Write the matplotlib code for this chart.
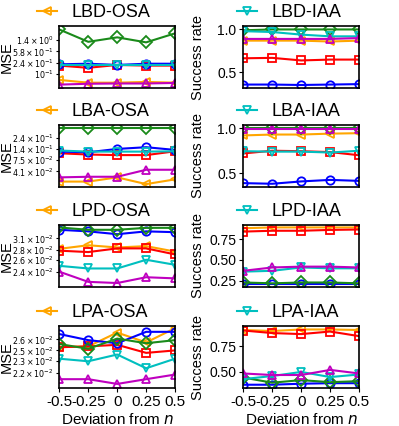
import numpy as np
import matplotlib
matplotlib.use('Agg')
import matplotlib.pyplot as plt
from matplotlib.lines import Line2D
from matplotlib.ticker import FixedLocator, FuncFormatter, NullLocator, FixedFormatter

plt.rcParams['font.family'] = ['Liberation Sans', 'DejaVu Sans']

# ---------------- data ----------------
x = [-0.5, -0.25, 0, 0.25, 0.5]
xticklabels = ['-0.5', '-0.25', '0', '0.25', '0.5']
series = ['orange', 'red', 'blue', 'green', 'cyan', 'magenta']

lbd_osa = {
    'orange':  [0.062, 0.050, 0.050, 0.053, 0.050],
    'red':     [0.19, 0.16, 0.20, 0.19, 0.19],
    'blue':    [0.21, 0.22, 0.20, 0.22, 0.22],
    'green':   [3.2, 1.22, 1.73, 1.17, 2.37],
    'cyan':    [0.20, 0.20, 0.20, 0.20, 0.20],
    'magenta': [0.043, 0.046, 0.047, 0.047, 0.049],
}
lbd_iaa = {
    'orange':  [0.87, 0.87, 0.87, 0.86, 0.87],
    'red':     [0.665, 0.67, 0.64, 0.65, 0.65],
    'blue':    [0.36, 0.36, 0.355, 0.36, 0.365],
    'green':   [0.99, 1.0, 1.0, 1.0, 1.0],
    'cyan':    [0.98, 0.97, 0.94, 0.92, 0.92],
    'magenta': [0.89, 0.89, 0.89, 0.89, 0.90],
}
lba_osa = {
    'orange':  [0.024, 0.024, 0.030, 0.021, 0.027],
    'red':     [0.108, 0.101, 0.098, 0.098, 0.120],
    'blue':    [0.118, 0.114, 0.136, 0.149, 0.129],
    'green':   [0.41, 0.41, 0.41, 0.41, 0.41],
    'cyan':    [0.125, 0.118, 0.118, 0.118, 0.120],
    'magenta': [0.030, 0.031, 0.031, 0.045, 0.045],
}
lba_iaa = {
    'orange':  [0.92, 0.93, 0.93, 0.94, 0.945],
    'red':     [0.72, 0.75, 0.745, 0.735, 0.70],
    'blue':    [0.39, 0.383, 0.409, 0.426, 0.415],
    'green':   [1.0, 1.0, 1.0, 1.0, 1.0],
    'cyan':    [0.745, 0.74, 0.74, 0.73, 0.75],
    'magenta': [0.99, 0.99, 0.99, 0.99, 0.99],
}
lpd_osa = {
    'orange':  [0.0286, 0.0294, 0.0289, 0.0292, 0.0280],
    'red':     [0.0282, 0.0279, 0.0287, 0.0287, 0.0274],
    'blue':    [0.0331, 0.0327, 0.0320, 0.0327, 0.0325],
    'green':   [0.0337, 0.0331, 0.0331, 0.0336, 0.0336],
    'cyan':    [0.0251, 0.0246, 0.0246, 0.0263, 0.0253],
    'magenta': [0.0240, 0.0222, 0.0220, 0.0230, 0.0228],
}
lpd_iaa = {
    'orange':  [0.88, 0.89, 0.89, 0.89, 0.89],
    'red':     [0.84, 0.85, 0.85, 0.86, 0.865],
    'blue':    [0.21, 0.21, 0.21, 0.21, 0.21],
    'green':   [0.23, 0.22, 0.23, 0.23, 0.22],
    'cyan':    [0.36, 0.37, 0.41, 0.40, 0.40],
    'magenta': [0.37, 0.41, 0.42, 0.42, 0.41],
}
lpa_osa = {
    'orange':  [0.0250, 0.0251, 0.0269, 0.0256, 0.0275],
    'red':     [0.0250, 0.0251, 0.0253, 0.0243, 0.0246],
    'blue':    [0.0267, 0.0259, 0.0255, 0.0270, 0.0270],
    'green':   [0.0254, 0.0248, 0.0261, 0.0255, 0.0259],
    'cyan':    [0.0236, 0.0233, 0.0241, 0.0225, 0.0236],
    'magenta': [0.0213, 0.0213, 0.0208, 0.0213, 0.0218],
}
lpa_iaa = {
    'orange':  [0.91, 0.90, 0.915, 0.915, 0.91],
    'red':     [0.905, 0.88, 0.87, 0.895, 0.85],
    'blue':    [0.375, 0.375, 0.385, 0.39, 0.39],
    'green':   [0.445, 0.395, 0.42, 0.40, 0.41],
    'cyan':    [0.43, 0.46, 0.50, 0.45, 0.475],
    'magenta': [0.485, 0.47, 0.47, 0.52, 0.485],
}

titles = ['LBD-OSA', 'LBD-IAA', 'LBA-OSA', 'LBA-IAA',
          'LPD-OSA', 'LPD-IAA', 'LPA-OSA', 'LPA-IAA']
panel_data = [lbd_osa, lbd_iaa, lba_osa, lba_iaa, lpd_osa, lpd_iaa, lpa_osa, lpa_iaa]

ylims = [(0.033, 4.2), (0.32, 1.04), (0.018, 0.485), (0.347, 1.036),
         (0.02134, 0.03434), (0.176, 0.919), (0.02038, 0.0278), (0.343, 0.949)]
yticks = [[0.1, 0.241, 0.581, 1.4], [0.5, 1.0],
          [0.0413, 0.0748, 0.136, 0.244], [0.5, 1.0],
          [0.024, 0.0262, 0.0284, 0.031], [0.25, 0.5, 0.75],
          [0.022, 0.0233, 0.0246, 0.026], [0.5, 0.75]]
lin_ticklabels = {1: ['0.5', '1.0'], 3: ['0.5', '1.0'],
                  5: ['0.25', '0.50', '0.75'], 7: ['0.50', '0.75']}

# ---------------- style ----------------
colors = {'orange': '#FFA500', 'red': '#FF0000', 'blue': '#0000FF',
          'green': '#1a8a1a', 'cyan': '#00BFBF', 'magenta': '#BF00BF'}
markers = {'orange': '<', 'red': 's', 'blue': 'o', 'green': 'D',
           'cyan': 'v', 'magenta': '^'}


def sci_fmt(v, pos=None):
    e = int(np.floor(np.log10(v) + 1e-9))
    c = v / 10 ** e
    cs = f"{c:.1f}"
    if cs == '1.0':
        return r'$10^{%d}$' % e
    return r'$%s\times10^{%d}$' % (cs, e)


fig = plt.figure(figsize=(3.99, 4.26), dpi=100)
W, H = 399.0, 426.0
lefts = [59.3, 243.3]
tops = [26, 125, 225, 326]
aw, ah = 115.8, 62.0

for i in range(8):
    r, c = divmod(i, 2)
    ax = fig.add_axes([lefts[c] / W, 1 - (tops[r] + ah) / H, aw / W, ah / H])
    d = panel_data[i]
    for s in series:
        ax.plot(x, d[s], color=colors[s], marker=markers[s], mfc='none',
                mec=colors[s], ms=6, mew=1.3, lw=1.5)
    is_log = (c == 0)
    if is_log:
        ax.set_yscale('log')
    ax.set_xlim(-0.5, 0.5)
    ax.set_ylim(*ylims[i])
    ax.yaxis.set_major_locator(FixedLocator(yticks[i]))
    ax.yaxis.set_minor_locator(NullLocator())
    if is_log:
        ax.yaxis.set_major_formatter(FuncFormatter(sci_fmt))
        ax.tick_params(axis='y', labelsize=5.7, length=2.5, width=0.8, pad=1.5)
        ax.set_ylabel('MSE', fontsize=10.5)
        ax.yaxis.set_label_coords(-0.395, 0.5)
    else:
        ax.yaxis.set_major_formatter(FixedFormatter(lin_ticklabels[i]))
        ax.tick_params(axis='y', labelsize=10, length=3, width=0.8, pad=2)
        ax.set_ylabel('Success rate', fontsize=10.5)
        ax.yaxis.set_label_coords(-0.33, 0.5)
    ax.set_xticks(x)
    if r == 3:
        ax.set_xticklabels(xticklabels)
        ax.tick_params(axis='x', labelsize=11, length=3, width=0.8, pad=2)
        ax.set_xlabel('Deviation from $n$', fontsize=11, labelpad=2)
    else:
        ax.set_xticklabels([])
        ax.tick_params(axis='x', length=0)
    for sp in ax.spines.values():
        sp.set_linewidth(1.2)
        sp.set_color('black')
    hs = 'orange' if c == 0 else 'cyan'
    h = Line2D([], [], color=colors[hs], marker=markers[hs], mfc='none',
               mec=colors[hs], ms=6, mew=1.3, lw=1.5)
    bx = -0.193 if c == 0 else -0.054
    ax.legend(handles=[h], labels=[titles[i]], loc='center left',
              bbox_to_anchor=(bx, 1.22), frameon=False, fontsize=13,
              handlelength=1.1, handletextpad=0.8, borderpad=0,
              borderaxespad=0)

fig.savefig('out.png', dpi=100)
